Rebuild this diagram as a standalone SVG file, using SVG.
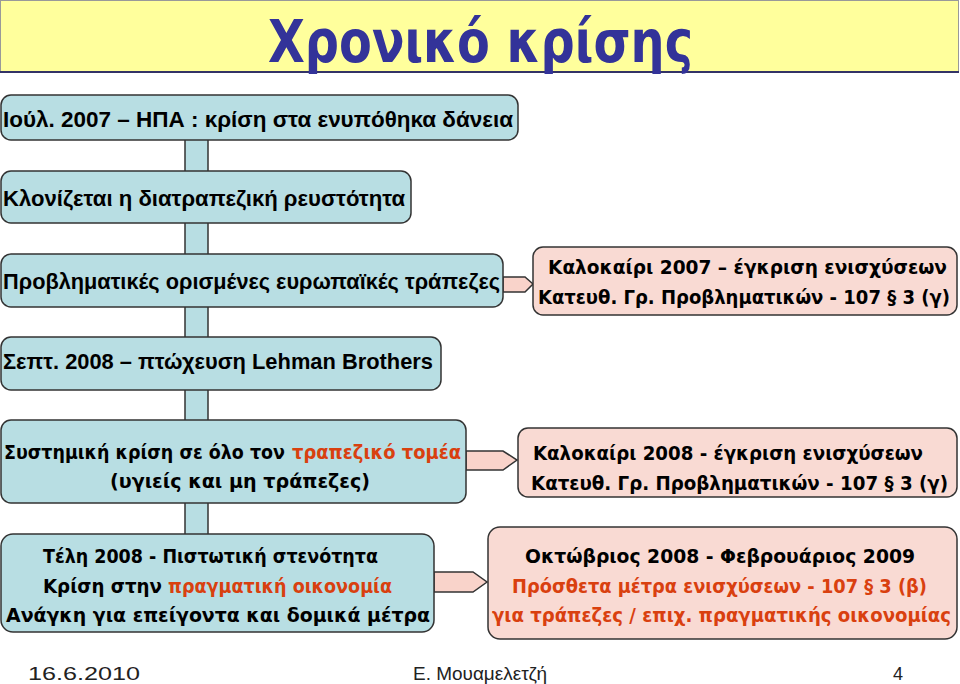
<svg xmlns="http://www.w3.org/2000/svg" width="960" height="684" viewBox="0 0 960 684">
<style>
.bl{fill:#B8DEE3;stroke:#333;stroke-width:1.5}
.pk{fill:#F9DAD3;stroke:#333;stroke-width:1.5}
.ar{fill:#F9D3CA;stroke:#333;stroke-width:1.5;stroke-linejoin:miter}
.a{font-family:"Liberation Sans",Arial,sans-serif;font-weight:bold;font-size:22px;fill:#000}
.v{font-family:"DejaVu Sans",Verdana,sans-serif;font-weight:bold;font-size:19px;fill:#000}
.r{fill:#D9400F}
.f{font-family:"Liberation Sans",Arial,sans-serif;font-size:18px;fill:#222}
</style>
<rect width="960" height="684" fill="#fff"/>
<g id="title">
<rect x="0.5" y="0.5" width="958" height="71" fill="#FFFF9C" stroke="#999"/>
<line x1="0" y1="72" x2="959" y2="72" stroke="#333366" stroke-width="2"/>
<text x="268" y="62" font-family="DejaVu Sans,Verdana,sans-serif" font-weight="bold" font-size="58" fill="#333399" textLength="425" lengthAdjust="spacingAndGlyphs">Χρονικό κρίσης</text>
</g>
<g id="connectors">
<rect x="185" y="138" width="23" height="398" class="bl"/>
<path d="M503,277 H525 L533,284 L525,292 H503 Z" class="ar"/>
<path d="M466,451 H503 L517,460 L503,470 H466 Z" class="ar"/>
<path d="M434,572 H473 L487,582 L473,592 H434 Z" class="ar"/>
</g>
<g id="n1">
<rect x="1" y="95" width="517" height="45" rx="10" class="bl"/>
<text x="3" y="127" class="a" textLength="510" lengthAdjust="spacingAndGlyphs">Ιούλ. 2007 – ΗΠΑ : κρίση στα ενυπόθηκα δάνεια</text>
</g>
<g id="n2">
<rect x="1" y="171" width="410" height="52" rx="10" class="bl"/>
<text x="3" y="206" class="a" textLength="402" lengthAdjust="spacingAndGlyphs">Κλονίζεται η διατραπεζική ρευστότητα</text>
</g>
<g id="n3">
<rect x="1" y="254" width="502" height="53" rx="10" class="bl"/>
<text x="3" y="289" class="a" textLength="497" lengthAdjust="spacingAndGlyphs">Προβληματικές ορισμένες ευρωπαϊκές τράπεζες</text>
</g>
<g id="n4">
<rect x="1" y="337" width="440" height="53" rx="10" class="bl"/>
<text x="3" y="369" class="a" textLength="430" lengthAdjust="spacingAndGlyphs">Σεπτ. 2008 – πτώχευση Lehman Brothers</text>
</g>
<g id="n5">
<rect x="1" y="420" width="465" height="83" rx="10" class="bl"/>
<text x="4" y="459" class="v" textLength="281" lengthAdjust="spacingAndGlyphs">Συστημική κρίση σε όλο τον</text>
<text x="292" y="459" class="v r" textLength="169" lengthAdjust="spacingAndGlyphs">τραπεζικό τομέα</text>
<text x="110" y="488" class="v" textLength="260" lengthAdjust="spacingAndGlyphs">(υγιείς και μη τράπεζες)</text>
</g>
<g id="n6">
<rect x="1" y="534" width="433" height="98" rx="12" class="bl"/>
<text x="43" y="563" class="v" textLength="335" lengthAdjust="spacingAndGlyphs">Τέλη 2008 - Πιστωτική στενότητα</text>
<text x="43" y="593" class="v" textLength="119" lengthAdjust="spacingAndGlyphs">Κρίση στην</text>
<text x="168" y="593" class="v r" textLength="224" lengthAdjust="spacingAndGlyphs">πραγματική οικονομία</text>
<text x="6" y="622" class="v" textLength="424" lengthAdjust="spacingAndGlyphs">Ανάγκη για επείγοντα και δομικά μέτρα</text>
</g>
<g id="nA">
<rect x="533" y="247" width="424" height="68" rx="10" class="pk"/>
<text x="548" y="274" class="v" textLength="399" lengthAdjust="spacingAndGlyphs">Καλοκαίρι 2007 – έγκριση ενισχύσεων</text>
<text x="538" y="304" class="v" textLength="412" lengthAdjust="spacingAndGlyphs">Κατευθ. Γρ. Προβληματικών - 107 § 3 (γ)</text>
</g>
<g id="nB">
<rect x="518" y="428" width="439" height="69" rx="10" class="pk"/>
<text x="533" y="460" class="v" textLength="390" lengthAdjust="spacingAndGlyphs">Καλοκαίρι 2008 - έγκριση ενισχύσεων</text>
<text x="531" y="490" class="v" textLength="417" lengthAdjust="spacingAndGlyphs">Κατευθ. Γρ. Προβληματικών - 107 § 3 (γ)</text>
</g>
<g id="nC">
<rect x="488" y="527" width="469" height="112" rx="12" class="pk"/>
<text x="525" y="563" class="v" textLength="390" lengthAdjust="spacingAndGlyphs">Οκτώβριος 2008 - Φεβρουάριος 2009</text>
<text x="512" y="593" class="v r" textLength="415" lengthAdjust="spacingAndGlyphs">Πρόσθετα μέτρα ενισχύσεων - 107 § 3 (β)</text>
<text x="492" y="622" class="v r" textLength="459" lengthAdjust="spacingAndGlyphs">για τράπεζες / επιχ. πραγματικής οικονομίας</text>
</g>
<g id="footer">
<text x="28" y="680" class="f" textLength="112" lengthAdjust="spacingAndGlyphs">16.6.2010</text>
<text x="413" y="680" class="f" textLength="134" lengthAdjust="spacingAndGlyphs">Ε. Μουαμελετζή</text>
<text x="893" y="680" class="f">4</text>
</g>
</svg>
